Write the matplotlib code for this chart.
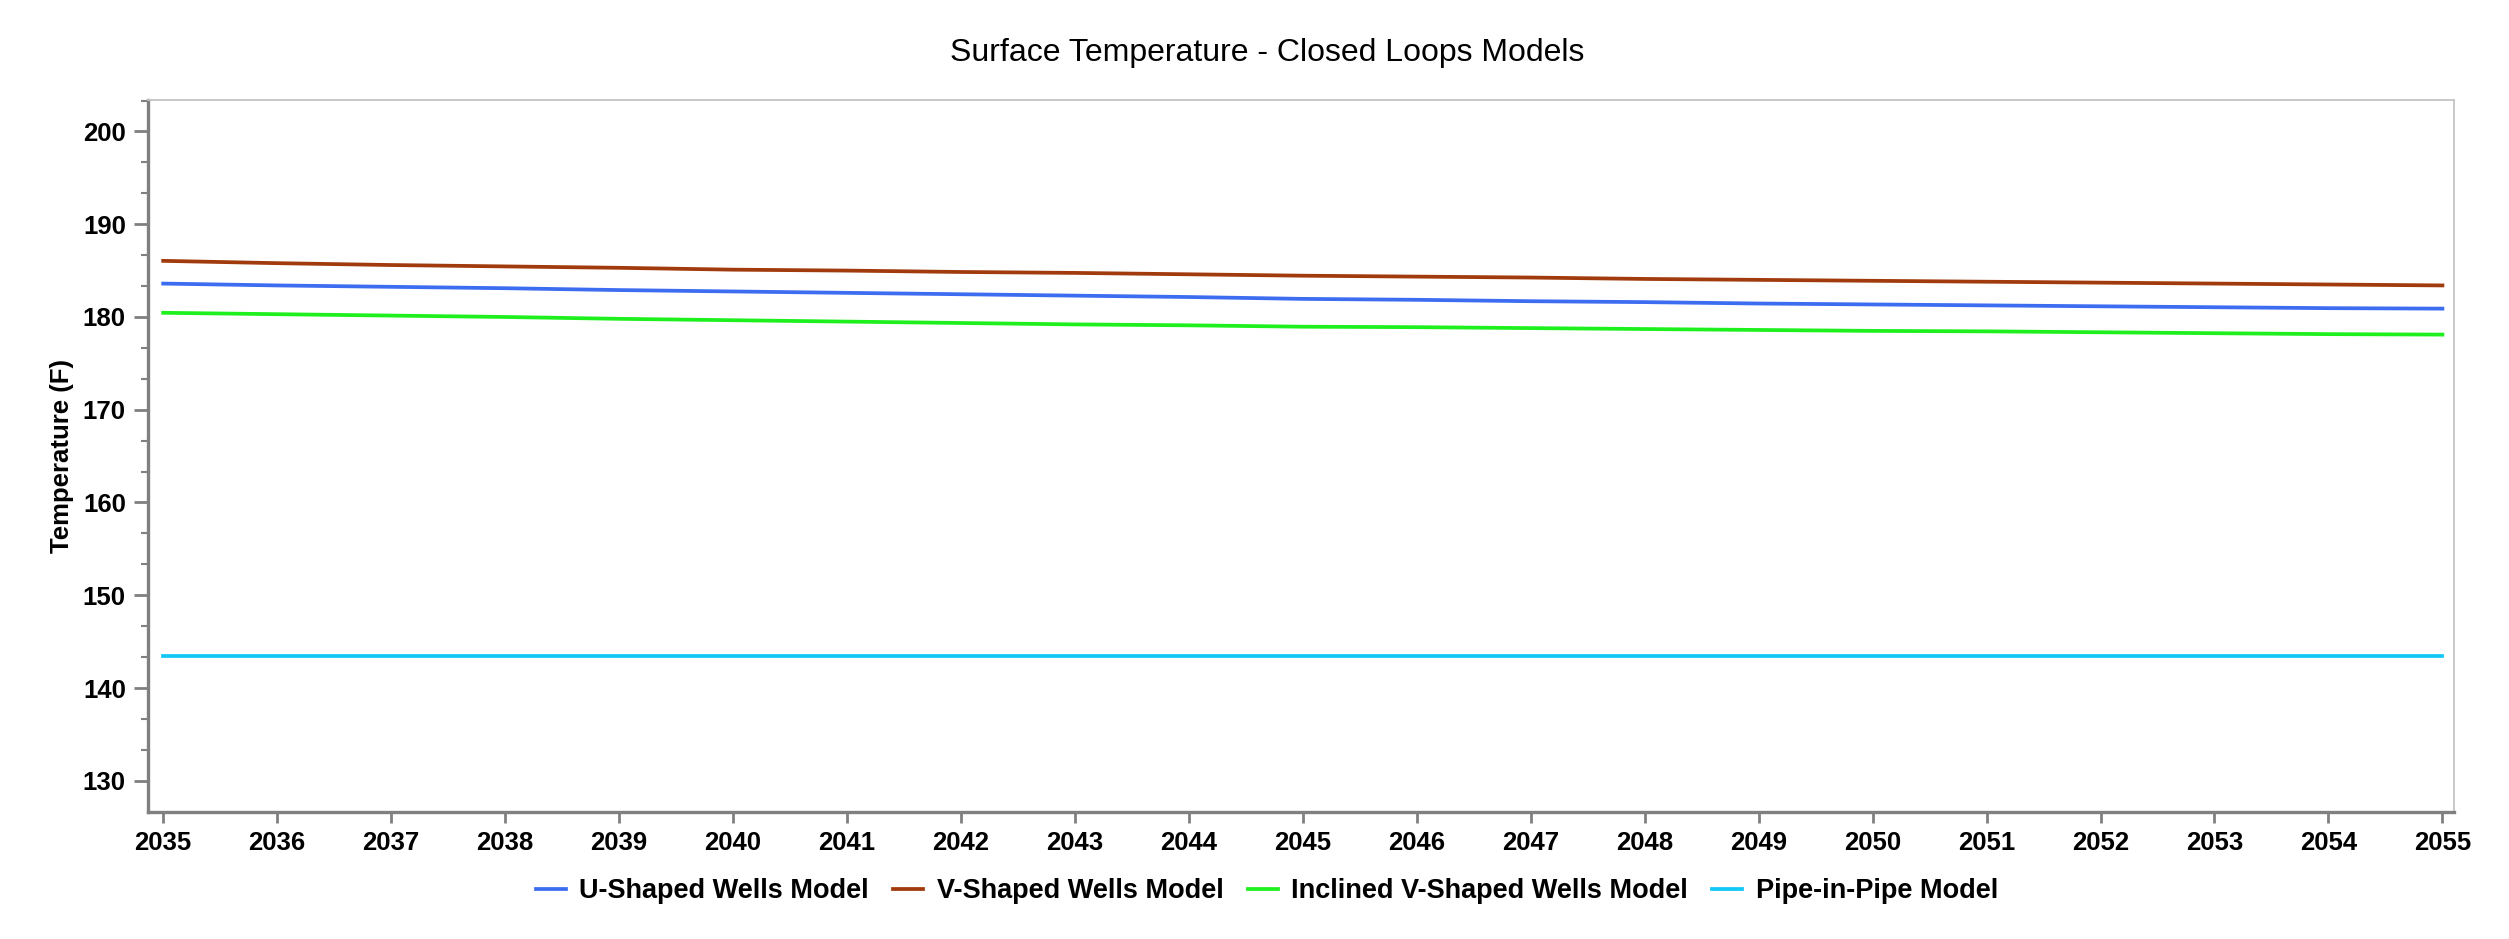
import numpy as np
import matplotlib
matplotlib.use('agg')
import matplotlib.pyplot as plt
from matplotlib.ticker import MultipleLocator, AutoMinorLocator

plt.rcParams['font.family'] = ['Liberation Sans', 'DejaVu Sans']

years = list(range(2035, 2056))

# temperatures in F
u_shaped = [183.6, 183.4, 183.25, 183.1, 182.9, 182.75, 182.6, 182.45, 182.3, 182.15, 181.95,
            181.85, 181.7, 181.6, 181.45, 181.35, 181.25, 181.15, 181.05, 180.95, 180.9]
v_shaped = [186.05, 185.8, 185.6, 185.45, 185.3, 185.1, 185.0, 184.85, 184.75, 184.6, 184.45,
            184.35, 184.25, 184.1, 184.0, 183.9, 183.8, 183.7, 183.6, 183.5, 183.4]
inclined_v = [180.45, 180.3, 180.15, 180.0, 179.8, 179.65, 179.5, 179.35, 179.2, 179.1, 178.95,
              178.9, 178.8, 178.7, 178.6, 178.5, 178.45, 178.35, 178.25, 178.15, 178.1]
pipe_in_pipe = [143.4] * len(years)

series = [
    ('U-Shaped Wells Model', u_shaped, '#3c6cf0'),
    ('V-Shaped Wells Model', v_shaped, '#a13a0c'),
    ('Inclined V-Shaped Wells Model', inclined_v, '#1ef01e'),
    ('Pipe-in-Pipe Model', pipe_in_pipe, '#12c8f5'),
]

fig = plt.figure(figsize=(25.09, 9.39), dpi=100)
ax = fig.add_axes([0.059, 0.1356, 0.919, 0.758])

for name, vals, col in series:
    ax.plot(years, vals, color=col, lw=2.7, label=name)

ax.set_xlim(2034.867, 2055.10)
ax.set_ylim(126.67, 203.4)
ax.xaxis.set_major_locator(MultipleLocator(1))
ax.yaxis.set_major_locator(MultipleLocator(10))
ax.yaxis.set_minor_locator(AutoMinorLocator(3))

for s in ['left', 'bottom']:
    ax.spines[s].set_color('#808080')
    ax.spines[s].set_linewidth(2.4)
for s in ['top', 'right']:
    ax.spines[s].set_color('#c4c4c4')
    ax.spines[s].set_linewidth(1.3)

ax.tick_params(axis='both', which='major', length=8, width=2, color='#808080',
               labelsize=18.5, pad=6)
ax.tick_params(axis='y', which='major', length=10)
ax.tick_params(axis='y', which='minor', length=5, width=1.5, color='#808080')
for lab in ax.get_xticklabels() + ax.get_yticklabels():
    lab.set_fontweight('bold')

ax.set_ylabel('Temperature (F)', fontsize=18.5, fontweight='bold')
ax.yaxis.set_label_coords(-0.032, 0.5)
fig.text(0.505, 0.9436, 'Surface Temperature - Closed Loops Models', ha='center', va='center',
         fontsize=23)

fig.legend(loc='center', bbox_to_anchor=(0.505, 0.051), ncol=4, frameon=False,
           prop={'size': 19.5, 'weight': 'bold'}, handlelength=1.1, handletextpad=0.5,
           columnspacing=0.9)

plt.savefig('out.png')
